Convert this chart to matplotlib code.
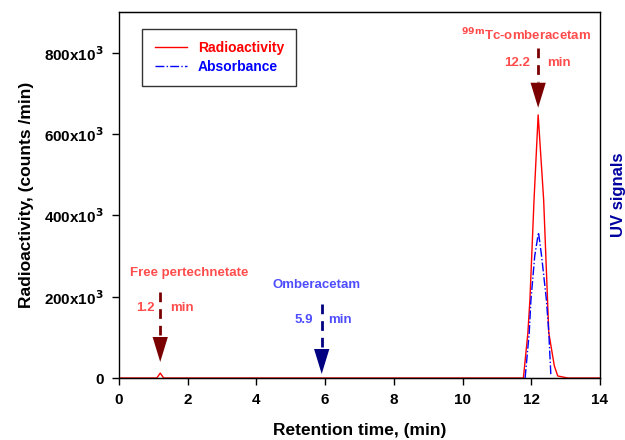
import matplotlib.pyplot as plt
import numpy as np

plt.rcParams['font.family'] = ['Liberation Sans', 'DejaVu Sans']
plt.rcParams['font.weight'] = 'bold'

# Radioactivity trace (counts/min)
rad_t = [0, 1.1, 1.2, 1.3, 11.77, 11.9, 11.96, 12.08, 12.2, 12.36, 12.51, 12.67, 12.77, 13.06, 14]
rad_y = [0, 0, 12e3, 0, 0, 110e3, 192e3, 438e3, 647e3, 438e3, 111e3, 30e3, 5e3, 0, 0]

# UV absorbance trace (plotted on same scale)
uv_t = [11.82, 11.94, 11.99, 12.1, 12.21, 12.3, 12.44, 12.51, 12.57]
uv_y = [0, 111e3, 192e3, 300e3, 358e3, 300e3, 192e3, 111e3, 7e3]

xticks = [0, 2, 4, 6, 8, 10, 12, 14]
yticks = [0, 200e3, 400e3, 600e3, 800e3]
ytick_labels = ['0', r'200x10$^3$', r'400x10$^3$', r'600x10$^3$', r'800x10$^3$']

red_txt = '#ff4d4d'
blue_txt = '#4d4dff'
dark_red = '#7a0000'
navy = '#000080'

fig = plt.figure(figsize=(6.25, 4.4), dpi=100)
ax = fig.add_axes([0.1904, 0.1409, 0.7696, 0.8318])

ax.plot(rad_t, rad_y, '-', c='red', lw=1, label='Radioactivity')
ax.plot(uv_t, uv_y, '-.', c='blue', lw=1, label='Absorbance')

ax.set_xlim(0, 14)
ax.set_ylim(0, 900e3)
ax.set_xticks(xticks)
ax.set_xticklabels([str(v) for v in xticks], fontsize=11, fontweight='bold')
ax.set_yticks(yticks)
ax.set_yticklabels(ytick_labels, fontsize=11, fontweight='bold')
ax.tick_params(direction='out', length=5, width=1, pad=6)
for s in ax.spines.values():
    s.set_linewidth(1)
ax.spines['right'].set_color('#555555')
ax.spines['left'].set_color('#555555')

ax.set_xlabel('Retention time, (min)', fontsize=12.5, fontweight='bold', labelpad=11)
ax.set_ylabel('Radioactivity, (counts /min)', fontsize=12.5, fontweight='bold', labelpad=7)

# Right axis label
ax2 = ax.twinx()
ax2.set_yticks([])
ax2.set_ylabel('UV signals', fontsize=12, fontweight='bold', color='#0000a0', labelpad=8)

leg = ax.legend(loc='upper left', bbox_to_anchor=(0.048, 0.954), borderaxespad=0, fontsize=10,
                frameon=True, fancybox=False, edgecolor='black', handlelength=2.3, borderpad=0.9,
                labelspacing=0.3, handletextpad=0.8)
leg.get_frame().set_linewidth(1)
for txt, col in zip(leg.get_texts(), ['red', 'blue']):
    txt.set_color(col)
    txt.set_fontweight('bold')


def arrow(x, y_top, y_head, y_tip, col):
    ax.plot([x, x], [y_top, y_head], ls=(0, (3.5, 2.5)), c=col, lw=2)
    ax.annotate('', xy=(x, y_tip), xytext=(x, y_head),
                arrowprops=dict(arrowstyle='-|>,head_length=1.8,head_width=0.55',
                                color=col, lw=0, shrinkA=0, shrinkB=0))


def yv(py):
    return (378 - py) / 81.25 * 200e3


# Free pertechnetate
ax.text(2.03, yv(273), 'Free pertechnetate', color=red_txt, fontsize=9.5, ha='center', va='center')
ax.text(1.05, yv(308), '1.2', color=red_txt, fontsize=9.5, ha='right', va='center')
ax.text(1.48, yv(308), 'min', color=red_txt, fontsize=9.5, ha='left', va='center')
arrow(1.2, yv(292), yv(335), yv(362), dark_red)

# Omberacetam
ax.text(5.75, yv(285), 'Omberacetam', color=blue_txt, fontsize=9.5, ha='center', va='center')
ax.text(5.65, yv(320), '5.9', color=blue_txt, fontsize=9.5, ha='right', va='center')
ax.text(6.1, yv(320), 'min', color=blue_txt, fontsize=9.5, ha='left', va='center')
arrow(5.9, yv(304), yv(347), yv(374), navy)

# 99mTc-omberacetam
ax.text(11.85, yv(35), r'$^{\mathbf{99m}}$Tc-omberacetam', color=red_txt, fontsize=9.5, ha='center', va='center')
ax.text(11.95, yv(63), '12.2', color=red_txt, fontsize=9.5, ha='right', va='center')
ax.text(12.45, yv(63), 'min', color=red_txt, fontsize=9.5, ha='left', va='center')
arrow(12.2, yv(48), yv(82), yv(108), dark_red)

fig.savefig('out.png', dpi=100)
plt.close()
